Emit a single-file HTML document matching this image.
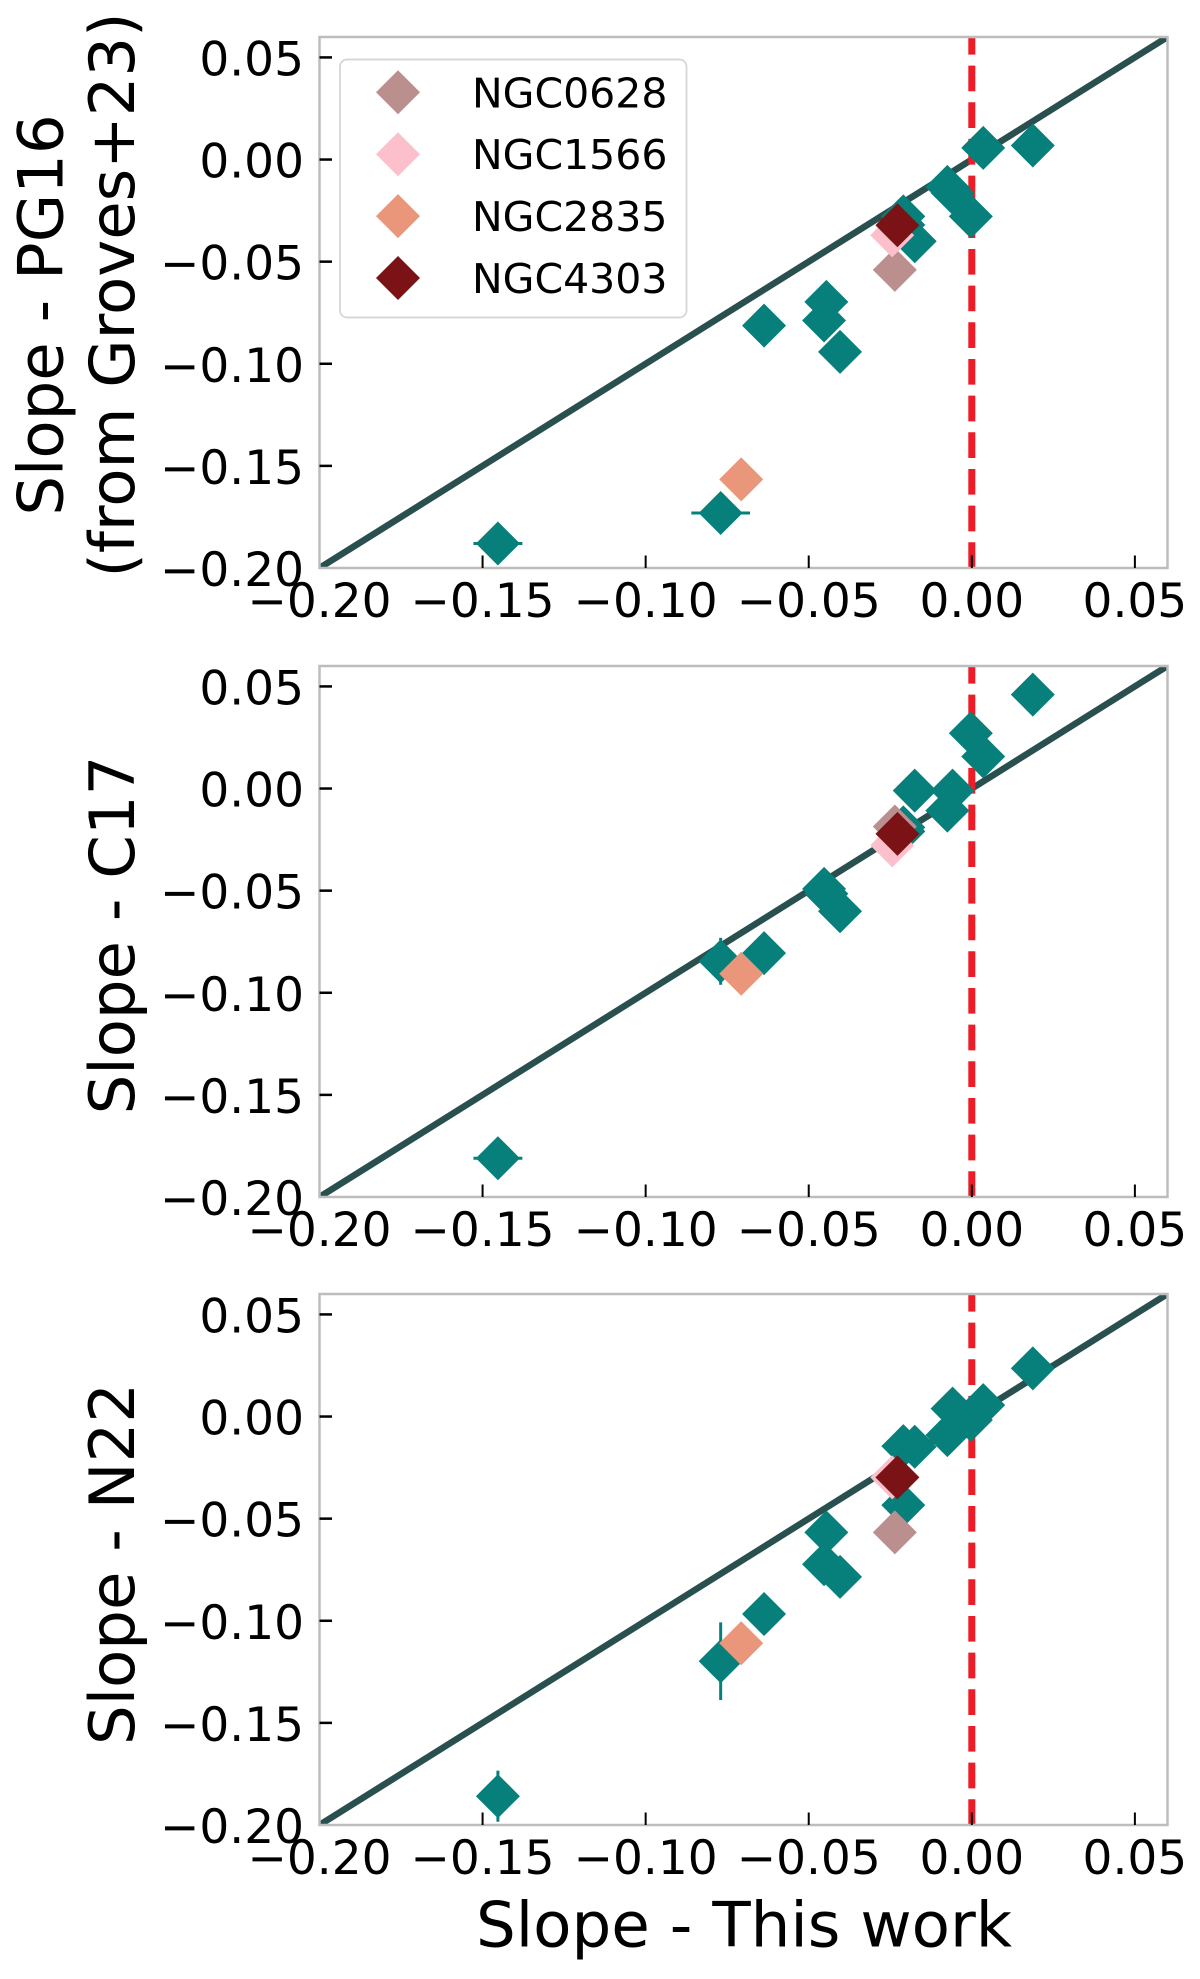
<!DOCTYPE html>
<html lang="en">
<head>
<meta charset="utf-8">
<title>Slope comparison chart</title>
<style>
  html, body { margin: 0; padding: 0; background: #ffffff; }
  #chart { display: block; width: 1200px; height: 1979px; }
  text { font-family: "DejaVu Sans", "Liberation Sans", sans-serif; fill: #000000; }
</style>
</head>
<body>
<svg id="chart" xmlns="http://www.w3.org/2000/svg" width="1200" height="1979" viewBox="0 0 1200 1979"></svg>
<script>
// ---- Data ----
const xTickValues = [-0.20, -0.15, -0.10, -0.05, 0.00, 0.05];
const yTickValues = [-0.20, -0.15, -0.10, -0.05, 0.00, 0.05];
const tickLabels = ['\u22120.20', '\u22120.15', '\u22120.10', '\u22120.05', '0.00', '0.05'];

const slopeThisWork = [0.0187, 0.0035, -0.0075, -0.0059, -0.0003, -0.0210, -0.0175, -0.0446, -0.0453, -0.0404, -0.0637, -0.0770, -0.1453, -0.0210];
const slopePG16 = [0.0069, 0.0057, -0.0134, -0.0163, -0.0278, -0.0278, -0.0400, -0.0697, -0.0788, -0.0942, -0.0813, -0.1731, -0.1880, -0.0320];
const slopeC17 = [0.0460, 0.0157, -0.0108, -0.0010, 0.0271, -0.0190, -0.0010, -0.0515, -0.0491, -0.0601, -0.0806, -0.0846, -0.1810, -0.0210];
const slopeN22 = [0.0236, 0.0056, -0.0091, 0.0039, -0.0017, -0.0145, -0.0148, -0.0567, -0.0723, -0.0785, -0.0967, -0.1198, -0.1859, -0.0434];

const xErrPG16 = [0, 0, 0, 0, 0, 0, 0, 0, 0, 0, 0, 0.0090, 0.0075, 0];
const yErrPG16 = [0, 0, 0, 0, 0, 0, 0, 0, 0, 0, 0, 0, 0, 0];
const xErrC17 = [0, 0, 0, 0, 0, 0, 0, 0, 0, 0, 0, 0, 0.0075, 0];
const yErrC17 = [0, 0, 0, 0, 0, 0, 0, 0, 0, 0, 0, 0.0115, 0, 0];
const xErrN22 = [0, 0, 0, 0, 0, 0, 0, 0, 0, 0, 0, 0, 0, 0];
const yErrN22 = [0, 0, 0, 0, 0, 0, 0, 0, 0, 0, 0, 0.0190, 0.0125, 0];

const highlightNames = ['NGC0628', 'NGC1566', 'NGC2835', 'NGC4303'];
const highlightColors = ['#bc8f8f', '#fcc0cc', '#e9967a', '#7b1316'];
const highlightX = [-0.0236, -0.0244, -0.0707, -0.0228];
const highlightPG16 = [-0.0540, -0.0371, -0.1566, -0.0322];
const highlightC17 = [-0.0186, -0.0278, -0.0907, -0.0222];
const highlightN22 = [-0.0567, -0.0298, -0.1110, -0.0298];

// ---- Layout ----
const svgNS = 'http://www.w3.org/2000/svg';
const svg = document.getElementById('chart');
const axLeft = 319.5, axRight = 1167.5, axHeight = 531;
const xMin = -0.20, xMax = 0.06, yMin = -0.20, yMax = 0.06;
const markerHalf = 22;
const tealColor = '#07807c';

function xScale(v) { return axLeft + (v - xMin) / (xMax - xMin) * (axRight - axLeft); }
function yScale(top, v) { return top + (yMax - v) / (yMax - yMin) * axHeight; }

function make(tag, attrs, parent) {
  const node = document.createElementNS(svgNS, tag);
  for (const key in attrs) node.setAttribute(key, attrs[key]);
  parent.appendChild(node);
  return node;
}
function diamondPoints(cx, cy) {
  return (cx) + ',' + (cy - markerHalf) + ' ' + (cx + markerHalf) + ',' + cy + ' ' + (cx) + ',' + (cy + markerHalf) + ' ' + (cx - markerHalf) + ',' + cy;
}
function verticalText(content, x, cy, size, parent) {
  const t = make('text', { x: 0, y: 0, 'font-size': size, 'text-anchor': 'middle', transform: 'translate(' + x + ',' + cy + ') rotate(-90)' }, parent);
  t.textContent = content;
  return t;
}

function drawPanel(key, top, yValues, xErr, yErr, highlightY) {
  const bottom = top + axHeight;
  const panel = make('g', {}, svg);
  
  

  const clipId = 'clip-' + key;
  const defs = make('defs', {}, panel);
  const clip = make('clipPath', { id: clipId }, defs);
  make('rect', { x: axLeft, y: top, width: axRight - axLeft, height: axHeight }, clip);

  const plot = make('g', { 'clip-path': 'url(#' + clipId + ')' }, panel);
  
  

  const oneToOne = make('line', { x1: xScale(xMin), y1: yScale(top, yMin), x2: xScale(xMax), y2: yScale(top, yMax), stroke: '#2a4f4f', 'stroke-width': 6.5 }, plot);
  
  

  const zeroLine = make('line', { x1: xScale(0), y1: yScale(top, yMin), x2: xScale(0), y2: yScale(top, yMax), stroke: '#ee1c27', 'stroke-width': 7, 'stroke-dasharray': '25.7 10.97' }, plot);
  
  

  slopeThisWork.forEach(function (xv, i) {
    const cx = xScale(xv);
    const cy = yScale(top, yValues[i]);
    if (xErr[i] > 0) {
      const bar = make('line', { x1: xScale(xv - xErr[i]), y1: cy, x2: xScale(xv + xErr[i]), y2: cy, stroke: tealColor, 'stroke-width': 3 }, plot);
      
      
    }
    if (yErr[i] > 0) {
      const bar = make('line', { x1: cx, y1: yScale(top, yValues[i] - yErr[i]), x2: cx, y2: yScale(top, yValues[i] + yErr[i]), stroke: tealColor, 'stroke-width': 3 }, plot);
      
      
    }
    const point = make('polygon', { points: diamondPoints(cx, cy), fill: tealColor }, plot);
    
    
  });

  highlightNames.forEach(function (name, i) {
    const point = make('polygon', { points: diamondPoints(xScale(highlightX[i]), yScale(top, highlightY[i])), fill: highlightColors[i] }, plot);
    
    
  });

  const frame = make('rect', { x: axLeft, y: top, width: axRight - axLeft, height: axHeight, fill: 'none', stroke: '#bdbdbd', 'stroke-width': 2.5 }, panel);
  
  

  xTickValues.forEach(function (v, i) {
    const x = xScale(v);
    if (i > 0) {
      const tick = make('line', { x1: x, y1: bottom, x2: x, y2: bottom - 12.5, stroke: '#000000', 'stroke-width': 2 }, panel);
      
      
    }
    const label = make('text', { x: x, y: bottom + 49, 'font-size': 47, 'text-anchor': 'middle' }, panel);
    label.textContent = tickLabels[i];
    
    
  });

  yTickValues.forEach(function (v, i) {
    const y = yScale(top, v);
    if (i > 0) {
      const tick = make('line', { x1: axLeft, y1: y, x2: axLeft + 12.5, y2: y, stroke: '#000000', 'stroke-width': 2.5 }, panel);
      
      
    }
    const label = make('text', { x: 304, y: y + 18, 'font-size': 47, 'text-anchor': 'end' }, panel);
    label.textContent = tickLabels[i];
    
    
  });
}

drawPanel('pg16', 37, slopePG16, xErrPG16, yErrPG16, highlightPG16);
drawPanel('c17', 666, slopeC17, xErrC17, yErrC17, highlightC17);
drawPanel('n22', 1294, slopeN22, xErrN22, yErrN22, highlightN22);

// ---- Axis titles ----
const titleLine1 = verticalText('Slope - PG16', 62.7, 315, 62.5, svg);


const titleLine2 = verticalText('(from Groves+23)', 134, 295, 62.5, svg);


const titleC17 = verticalText('Slope - C17', 134, 935, 62.5, svg);


const titleN22 = verticalText('Slope - N22', 134, 1564, 62.5, svg);


const xTitle = make('text', { x: 744, y: 1946.5, 'font-size': 62.7, 'text-anchor': 'middle' }, svg);
xTitle.textContent = 'Slope - This work';



// ---- Legend ----
const legend = make('g', {}, svg);


const legendBox = make('rect', { x: 340, y: 59.5, width: 346.5, height: 258, rx: 7, ry: 7, fill: '#ffffff', 'fill-opacity': 0.9, stroke: '#d4d4d4', 'stroke-width': 1.7 }, legend);


highlightNames.forEach(function (name, i) {
  const rowY = 92.3 + i * 61.9;
  const swatch = make('polygon', { points: diamondPoints(398, rowY), fill: highlightColors[i] }, legend);
  
  
  const label = make('text', { x: 472, y: rowY + 15, 'font-size': 41 }, legend);
  label.textContent = name;
  
  
});
</script>
</body>
</html>
